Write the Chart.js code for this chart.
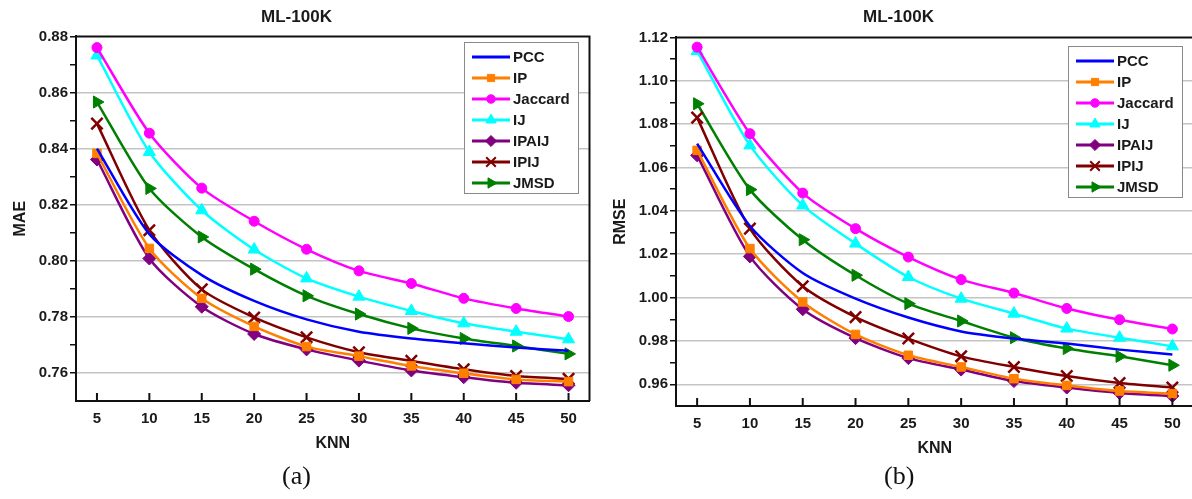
<!DOCTYPE html>
<html>
<head>
<meta charset="utf-8">
<script src="https://cdn.jsdelivr.net/npm/chart.js@4/dist/chart.umd.min.js"></script>
<style>
  html, body { margin:0; padding:0; background:#fff; overflow:hidden; width:1192px; height:499px; }
  .wrap { position:absolute; top:0; }
  .cap { position:absolute; top:461px; font-family:"Liberation Serif","DejaVu Serif",serif; font-size:26px; color:#111; }
</style>
</head>
<body>
<div class="wrap" style="left:0"><canvas id="chartMAE" width="600" height="462"></canvas></div>
<div class="wrap" style="left:596px"><canvas id="chartRMSE" width="608" height="462"></canvas></div>
<div class="cap" style="left:282px">(a)</div>
<div class="cap" style="left:884px">(b)</div>
<script>
// eje x
const knn = [5, 10, 15, 20, 25, 30, 35, 40, 45, 50];
const names = ['PCC', 'IP', 'Jaccard', 'IJ', 'IPAIJ', 'IPIJ', 'JMSD'];

// MAE (a)
const maePCC     = [0.840, 0.8095, 0.7949, 0.7857, 0.7791, 0.7747, 0.7723, 0.7706, 0.7691, 0.7679];
const maeIP      = [0.8383, 0.8044, 0.7866, 0.7766, 0.7694, 0.7660, 0.7625, 0.7599, 0.7577, 0.7569];
const maeJaccard = [0.8760, 0.8455, 0.8259, 0.8141, 0.8041, 0.7964, 0.7919, 0.7866, 0.7830, 0.7801];
const maeIJ      = [0.8732, 0.8388, 0.8180, 0.8040, 0.7937, 0.7872, 0.7821, 0.7777, 0.7747, 0.7720];
const maeIPAIJ   = [0.8361, 0.8008, 0.7836, 0.7739, 0.7684, 0.7644, 0.7609, 0.7585, 0.7565, 0.7556];
const maeIPIJ    = [0.8489, 0.8109, 0.7898, 0.7798, 0.7727, 0.7674, 0.7643, 0.7613, 0.7589, 0.7579];
const maeJMSD    = [0.8566, 0.8258, 0.8085, 0.7970, 0.7875, 0.7810, 0.7759, 0.7723, 0.7696, 0.7668];

// RMSE (b)
const rmsePCC     = [1.0710, 1.0330, 1.0113, 0.9995, 0.9908, 0.9844, 0.9811, 0.9788, 0.9760, 0.9738];
const rmseIP      = [1.0679, 1.0226, 0.9980, 0.9830, 0.9734, 0.9680, 0.9626, 0.9595, 0.9569, 0.9557];
const rmseJaccard = [1.1155, 1.0756, 1.0482, 1.0318, 1.0187, 1.0083, 1.0021, 0.9950, 0.9898, 0.9855];
const rmseIJ      = [1.1137, 1.0702, 1.0425, 1.0249, 1.0095, 0.9995, 0.9926, 0.9857, 0.9815, 0.9775];
const rmseIPAIJ   = [1.0656, 1.0190, 0.9946, 0.9813, 0.9721, 0.9668, 0.9615, 0.9585, 0.9560, 0.9546];
const rmseIPIJ    = [1.0830, 1.0318, 1.0052, 0.9910, 0.9811, 0.9729, 0.9680, 0.9638, 0.9606, 0.9585];
const rmseJMSD    = [1.0894, 1.0498, 1.0267, 1.0103, 0.9972, 0.9892, 0.9815, 0.9765, 0.9729, 0.9688];

// ticks con etiqueta
const maeTicks  = [0.76, 0.78, 0.80, 0.82, 0.84, 0.86, 0.88];
const rmseTicks = [0.96, 0.98, 1.00, 1.02, 1.04, 1.06, 1.08, 1.10, 1.12];

// estilos por serie
const styles = [
  { color:'#0000ff', point:false,      r:0 },
  { color:'#ff7f00', point:'rect',     r:6 },
  { color:'#ff00ff', point:'circle',   r:5 },
  { color:'#00ffff', point:'triangle', r:7 },
  { color:'#800080', point:'rectRot',  r:6.5 },
  { color:'#800000', point:'crossRot', r:8 },
  { color:'#008000', point:'triangle', r:7, rot:90 }
];

const FONT = '"Liberation Sans", Arial, sans-serif';

// marco, ticks internos en x y leyenda dentro del area
const framePlugin = {
  id: 'frame',
  afterDraw(chart, args, opts) {
    const { ctx, chartArea: a } = chart;
    const xs = chart.scales.x;
    ctx.save();
    ctx.strokeStyle = '#111';
    ctx.lineWidth = 2;
    ctx.beginPath();
    ctx.moveTo(a.left, a.top); ctx.lineTo(a.right, a.top); ctx.lineTo(a.right, a.bottom);
    xs.ticks.forEach(t => {
      const px = xs.getPixelForValue(t.value);
      ctx.moveTo(px, a.bottom); ctx.lineTo(px, a.bottom - 8);
    });
    ctx.stroke();

    // leyenda
    const w = 114, h = 151, rowH = 21;
    const x0 = Math.round(a.right - opts.right - w), y0 = Math.round(a.top + opts.top);
    ctx.fillStyle = '#fff';
    ctx.fillRect(x0, y0, w, h);
    ctx.strokeStyle = '#8a8a8a';
    ctx.lineWidth = 1;
    ctx.strokeRect(x0 + 0.5, y0 + 0.5, w, h);
    ctx.font = 'bold 15px ' + FONT;
    ctx.textBaseline = 'middle';
    chart.data.datasets.forEach((ds, i) => {
      const y = y0 + 15 + i * rowH;
      ctx.strokeStyle = ds.borderColor;
      ctx.fillStyle = ds.borderColor;
      ctx.lineWidth = 3;
      ctx.beginPath();
      ctx.moveTo(x0 + 8, y); ctx.lineTo(x0 + 46, y);
      ctx.stroke();
      if (ds.pointRadius > 0) {
        ctx.lineWidth = ds.pointStyle === 'crossRot' ? 2 : 1;
        Chart.helpers.drawPoint(ctx, {
          pointStyle: ds.pointStyle, rotation: ds.pointRotation || 0,
          radius: ds.pointRadius * 0.85, borderWidth: ctx.lineWidth
        }, x0 + 27, y);
      }
      ctx.fillStyle = '#1a1a1a';
      ctx.fillText(ds.label, x0 + 49, y + 1);
    });
    ctx.restore();
  }
};

function makeChart(id, series, majors, yMin, yMax, yTitle, cfg) {
  const datasets = series.map((vals, i) => {
    const s = styles[i];
    return {
      label: names[i],
      data: knn.map((k, j) => ({ x: k, y: vals[j] })),
      borderColor: s.color,
      backgroundColor: s.color,
      borderWidth: 2.5,
      pointStyle: s.point || 'circle',
      pointRadius: s.r,
      pointHoverRadius: s.r,
      pointRotation: s.rot || 0,
      pointBorderWidth: s.point === 'crossRot' ? 2.5 : 1,
      tension: 0.25
    };
  });

  new Chart(document.getElementById(id), {
    type: 'line',
    data: { datasets },
    plugins: [framePlugin],
    options: {
      responsive: false,
      animation: false,
      layout: { padding: { left: 0, right: cfg.padRight, top: 0, bottom: 0 } },
      plugins: {
        legend: { display: false },
        tooltip: { enabled: false },
        title: {
          display: true, text: 'ML-100K', color: '#1a1a1a',
          font: { family: FONT, size: 17, weight: 'bold', lineHeight: 1.2 },
          padding: cfg.titlePad
        },
        frame: cfg.legend
      },
      scales: {
        x: {
          type: 'linear', min: 3, max: 52,
          afterBuildTicks: sc => { sc.ticks = knn.map(v => ({ value: v })); },
          afterFit: sc => { sc.height = cfg.xHeight; },
          grid: { drawOnChartArea: false, drawTicks: false },
          border: { color: '#111', width: 2 },
          ticks: { color: '#1a1a1a', padding: 9, font: { family: FONT, size: 15, weight: 'bold' } },
          title: { display: true, text: 'KNN', color: '#1a1a1a', padding: { top: 4, bottom: cfg.knnPad },
                   font: { family: FONT, size: 16, weight: 'bold' } }
        },
        y: {
          min: yMin, max: yMax,
          afterBuildTicks: sc => {
            const t = [];
            majors.forEach(v => { t.push({ value: v }); t.push({ value: +(v - 0.01).toFixed(2) }); });
            sc.ticks = t.filter(o => o.value > yMin).sort((a, b) => a.value - b.value);
          },
          afterFit: sc => { sc.width = cfg.yWidth; },
          grid: {
            color: c => (c.tick && majors.some(m => Math.abs(m - c.tick.value) < 1e-6) && c.tick.value < yMax - 1e-6) ? '#c4c4c4' : 'rgba(0,0,0,0)',
            lineWidth: 1.5,
            tickColor: '#111',
            tickWidth: 1.5,
            tickLength: 6
          },
          border: { color: '#111', width: 2 },
          ticks: {
            color: '#1a1a1a', padding: 2, autoSkip: false,
            font: { family: FONT, size: 15, weight: 'bold' },
            callback: v => majors.some(m => Math.abs(m - v) < 1e-6) ? v.toFixed(2) : ''
          },
          title: { display: true, text: yTitle, color: '#1a1a1a', padding: { top: cfg.yTitlePad, bottom: 0 },
                   font: { family: FONT, size: 16, weight: 'bold' } }
        }
      }
    }
  });
}

makeChart('chartMAE',
  [maePCC, maeIP, maeJaccard, maeIJ, maeIPAIJ, maeIPIJ, maeJMSD],
  maeTicks, 0.75, 0.88, 'MAE',
  { yWidth: 76, padRight: 7, titlePad: { top: 7, bottom: 9 }, legend: { right: 12, top: 6 },
    xHeight: 61, knnPad: 9, yTitlePad: 11 });

makeChart('chartRMSE',
  [rmsePCC, rmseIP, rmseJaccard, rmseIJ, rmseIPAIJ, rmseIPIJ, rmseJMSD],
  rmseTicks, 0.95, 1.12, 'RMSE',
  { yWidth: 80, padRight: 3, titlePad: { top: 7, bottom: 10 }, legend: { right: 12, top: 9 },
    xHeight: 56, knnPad: 4, yTitlePad: 15 });
</script>
</body>
</html>
